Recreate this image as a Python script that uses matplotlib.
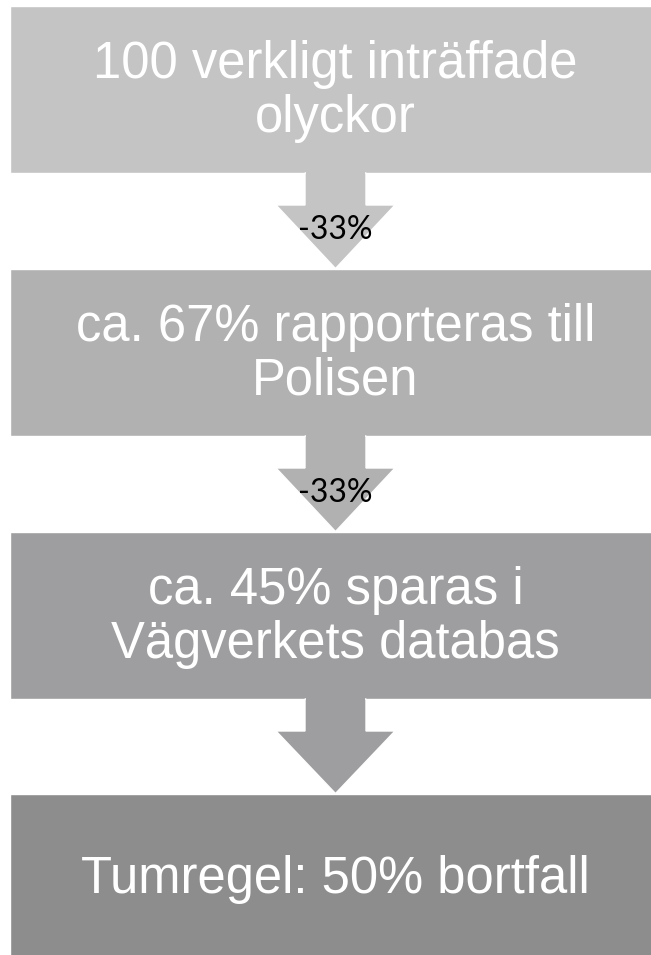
import matplotlib
matplotlib.use("Agg")
import matplotlib.pyplot as plt
from matplotlib.patches import Rectangle, Polygon

# ---- data ----
stage_labels = [
    "100 verkligt inträffade\nolyckor",
    "ca. 67% rapporteras till\nPolisen",
    "ca. 45% sparas i\nVägverkets databas",
    "Tumregel: 50% bortfall",
]
arrow_labels = ["-33%", "-33%", ""]
stage_colors = ["#c4c4c4", "#b1b1b1", "#9e9ea0", "#8d8d8d"]

main_family = "Liberation Sans"
main_size = 36.5

W, H = 651, 955
fig = plt.figure(figsize=(W / 100, H / 100), dpi=100)
ax = fig.add_axes([0, 0, 1, 1])
ax.set_xlim(0, W)
ax.set_ylim(H, 0)
ax.axis("off")

# layout
box_left, box_right = 10, 661
cx = (box_left + box_right) / 2
box_tops = [6, 269, 532, 794]
box_h = 167
shaft_half, head_half = 30.5, 59.5
shaft_len = 32

for i, (lab, col) in enumerate(zip(stage_labels, stage_colors)):
    top = box_tops[i]
    ax.add_patch(Rectangle((box_left, top), box_right - box_left, box_h,
                           facecolor=col, edgecolor="white", lw=1.0, zorder=2))
    ax.text(cx, top + box_h / 2 + 2, lab, ha="center", va="center",
            color="white", fontsize=main_size, family=main_family,
            linespacing=1.12, zorder=5)

for i, lab in enumerate(arrow_labels):
    y0 = box_tops[i] + box_h
    y_tip = box_tops[i + 1] - 0.5
    y_head = y0 + shaft_len
    pts = [(cx - shaft_half, y0), (cx + shaft_half, y0), (cx + shaft_half, y_head),
           (cx + head_half, y_head), (cx, y_tip), (cx - head_half, y_head),
           (cx - shaft_half, y_head)]
    ax.add_patch(Polygon(pts, closed=True, facecolor=stage_colors[i],
                         edgecolor="white", lw=1.0, zorder=3))
    ax.add_patch(Rectangle((cx - shaft_half + 1, y0 - 2), 2 * shaft_half - 2, 4,
                           facecolor=stage_colors[i], edgecolor="none", zorder=4))
    if lab:
        ax.text(cx, y_head + 25, lab, ha="center", va="center", color="black",
                fontsize=23, family="Lato", zorder=6)

fig.savefig("out.png", dpi=100)
